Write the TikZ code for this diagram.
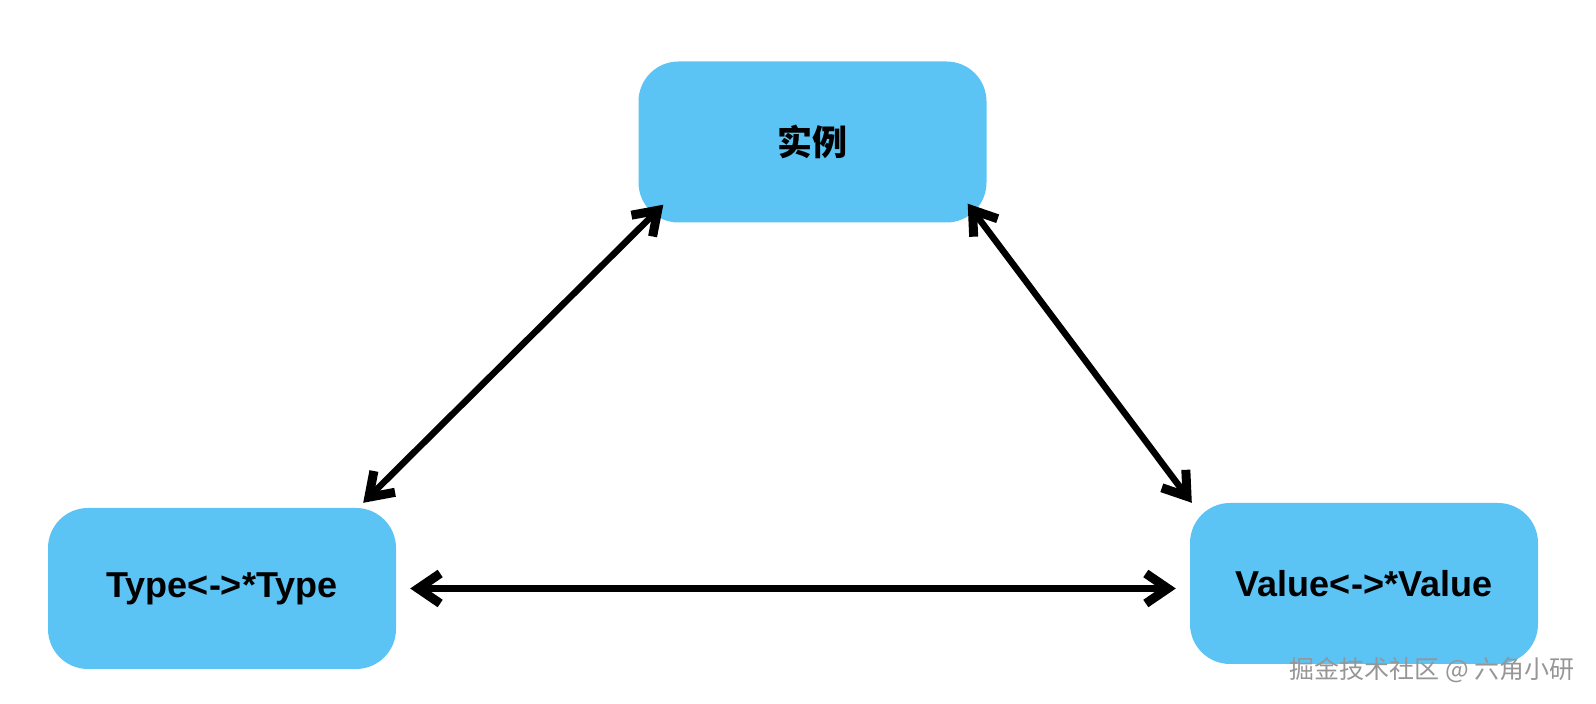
\documentclass[tikz,border=0pt]{standalone}
\usepackage{fontspec}
\setmainfont{Liberation Sans}
\newfontfamily\cjk{Noto Sans CJK SC}
\usetikzlibrary{arrows.meta,calc}
\definecolor{boxblue}{RGB}{91,196,245}
\definecolor{wmgray}{RGB}{150,150,150}
\begin{document}
\begin{tikzpicture}[x=1pt,y=1pt,
  box/.style={fill=boxblue,draw=none,rounded corners=40pt,minimum width=348pt,minimum height=161pt,inner sep=0pt,font=\bfseries\fontsize{36}{40}\selectfont},
  tipb/.tip={Straight Barb[length=22pt,width=30pt,line width=9pt,line cap=butt,line join=miter]},
  link/.style={line width=6.5pt,tipb-tipb}]
\useasboundingbox (0,0) rectangle (1596,704);
\node[box] (inst) at (812.5,562) {\cjk\bfseries\fontsize{35}{40}\selectfont 实例};
\node[box] (typ) at (222,115.5) {Type<->*Type};
\node[box] (val) at (1364,120.5) {Value<->*Value};
\draw[link] ($(typ.north east)+(-33,5)$) -- ($(inst.south west)+(25,18)$);
\draw[link] ($(inst.south east)+(-19,19)$) -- ($(val.north west)+(2,0)$);
\draw[link] ($(typ.east)+(14,0)$) -- ($(val.west |- typ.east)+(-14,0)$);
\node[font=\cjk\fontsize{25}{28}\selectfont,text=wmgray] (wm) at (1432,34) {掘金技术社区 @ 六角小研};
\end{tikzpicture}
\end{document}
